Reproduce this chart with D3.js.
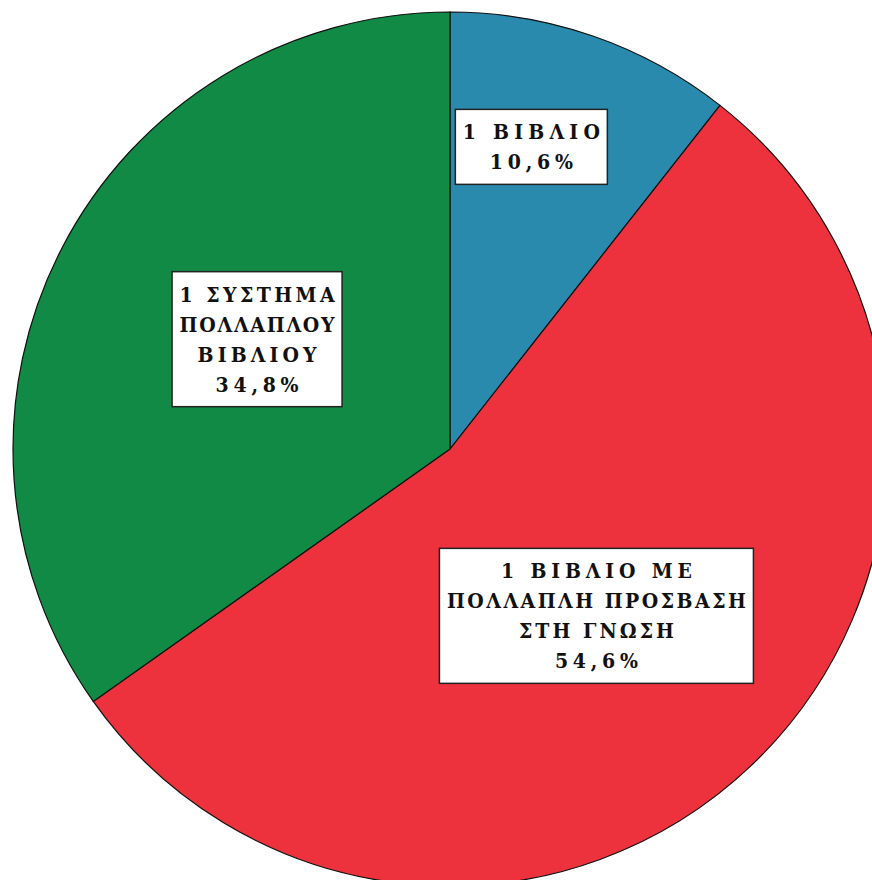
<!DOCTYPE html>
<html><head><meta charset="utf-8">
<script src="https://cdn.jsdelivr.net/npm/d3@7"></script>
<style>html,body{margin:0;padding:0;background:#fff;}</style>
</head><body>
<script>
const categories = ["1 ΒΙΒΛΙΟ", "1 ΒΙΒΛΙΟ ΜΕ ΠΟΛΛΑΠΛΗ ΠΡΟΣΒΑΣΗ ΣΤΗ ΓΝΩΣΗ", "1 ΣΥΣΤΗΜΑ ΠΟΛΛΑΠΛΟΥ ΒΙΒΛΙΟΥ"];
const labelLines = [["1 ΒΙΒΛΙΟ"], ["1 ΒΙΒΛΙΟ ΜΕ", "ΠΟΛΛΑΠΛΗ ΠΡΟΣΒΑΣΗ", "ΣΤΗ ΓΝΩΣΗ"], ["1 ΣΥΣΤΗΜΑ", "ΠΟΛΛΑΠΛΟΥ", "ΒΙΒΛΙΟΥ"]];
const values = [10.6, 54.6, 34.8];
const colors = ["#2a8aad", "#ee323d", "#118a46"];

const W = 872, H = 880;
const cx = 450, cy = 449, R = 437;
const fontSize = 21, lineH = 30, charAdv = 18;

const svg = d3.select("body").append("svg").attr("width", W).attr("height", H);
const g = svg.append("g").attr("transform", `translate(${cx},${cy})`);

const data = categories.map((c, i) => ({cat: c, lines: labelLines[i], value: values[i], color: colors[i]}));
const pie = d3.pie().value(d => d.value).sort(null);
const arcs = pie(data);
const arc = d3.arc().innerRadius(0).outerRadius(R);

g.selectAll("path.slice").data(arcs).join("path")
  .attr("class", "slice")
  .attr("d", arc)
  .attr("fill", d => d.data.color)
  .attr("stroke", "#111")
  .attr("stroke-width", 1.2);

const fmt = v => d3.format(".1f")(v).replace(".", ",") + "%";

arcs.forEach(a => {
  const frac = a.data.value / d3.sum(values);
  const mid = (a.startAngle + a.endAngle) / 2;
  let ang, lr;
  if (frac < 0.15) { ang = mid - 0.07; lr = R * 0.716; }
  else { ang = mid + 0.04; lr = R * 0.508; }
  const x = lr * Math.sin(ang), y = -lr * Math.cos(ang);
  const lines = a.data.lines.concat([fmt(a.data.value)]);
  const n = lines.length;
  const maxLen = d3.max(lines, l => l.length);
  const lg = g.append("g").attr("transform", `translate(${x},${y})`);
  const boxW = maxLen * charAdv + 8, boxH = n * lineH + 15;
  lg.append("rect")
    .attr("x", -boxW / 2).attr("y", -boxH / 2)
    .attr("width", boxW).attr("height", boxH)
    .attr("fill", "#fff").attr("stroke", "#222").attr("stroke-width", 1.5);
  lines.forEach((ln, i) => {
    const ty = (i - (n - 1) / 2) * lineH + fontSize * 0.36;
    const len = ln.length * charAdv - 7;
    lg.append("text")
      .attr("font-family", "'DejaVu Serif Condensed', 'DejaVu Serif', 'Liberation Serif', serif")
      .attr("font-stretch", "condensed")
      .attr("font-weight", "bold")
      .attr("font-size", fontSize)
      .attr("fill", "#111")
      .attr("x", -len / 2)
      .attr("y", ty)
      .attr("textLength", len)
      .attr("lengthAdjust", "spacing")
      .text(ln);
  });
});
</script>
</body></html>
